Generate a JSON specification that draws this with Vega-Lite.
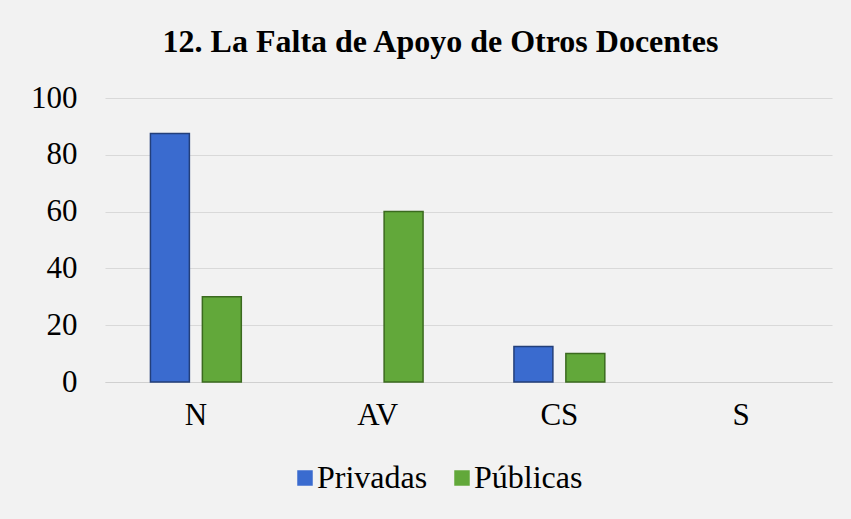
{
  "$schema": "https://vega.github.io/schema/vega-lite/v6.json",
  "width": 727,
  "height": 284,
  "autosize": "none",
  "padding": {"left": 105, "top": 98, "right": 19, "bottom": 137},
  "background": "#f2f2f2",
  "title": {
    "text": "12. La Falta de Apoyo de Otros Docentes",
    "font": "Liberation Serif",
    "fontSize": 32,
    "fontWeight": "bold",
    "color": "#000000",
    "anchor": "middle",
    "dx": -28,
    "offset": 23
  },
  "data": {
    "values": [
      {"cat": "N", "serie": "Privadas", "valor": 87.5},
      {"cat": "N", "serie": "Públicas", "valor": 30},
      {"cat": "AV", "serie": "Privadas", "valor": 0},
      {"cat": "AV", "serie": "Públicas", "valor": 60},
      {"cat": "CS", "serie": "Privadas", "valor": 12.5},
      {"cat": "CS", "serie": "Públicas", "valor": 10},
      {"cat": "S", "serie": "Privadas", "valor": 0},
      {"cat": "S", "serie": "Públicas", "valor": 0}
    ]
  },
  "mark": {"type": "bar", "strokeWidth": 1.5},
  "encoding": {
    "x": {
      "field": "cat",
      "type": "nominal",
      "sort": ["N", "AV", "CS", "S"],
      "scale": {"paddingInner": 0.5, "paddingOuter": 0.25},
      "axis": {
        "title": null,
        "labelAngle": 0,
        "labelFont": "Liberation Serif",
        "labelFontSize": 31,
        "labelColor": "#000000",
        "labelPadding": 18,
        "ticks": false,
        "domainColor": "#d0d0d0"
      }
    },
    "xOffset": {
      "field": "serie",
      "type": "nominal",
      "scale": {"paddingInner": 0.25}
    },
    "y": {
      "field": "valor",
      "type": "quantitative",
      "scale": {"domain": [0, 100]},
      "axis": {
        "title": null,
        "values": [0, 20, 40, 60, 80, 100],
        "labelFont": "Liberation Serif",
        "labelFontSize": 31,
        "labelColor": "#000000",
        "labelPadding": 28,
        "ticks": false,
        "domain": false,
        "gridColor": "#d9d9d9"
      }
    },
    "color": {
      "field": "serie",
      "type": "nominal",
      "scale": {"domain": ["Privadas", "Públicas"], "range": ["#3a6bcf", "#62a83a"]},
      "legend": {
        "title": null,
        "orient": "none",
        "legendX": 184,
        "legendY": 364,
        "direction": "horizontal",
        "symbolType": "square",
        "symbolSize": 240,
        "symbolStrokeWidth": 0,
        "labelFont": "Liberation Serif",
        "labelFontSize": 32,
        "labelColor": "#000000",
        "columnPadding": 18,
        "labelOffset": -4
      }
    },
    "stroke": {
      "field": "serie",
      "type": "nominal",
      "scale": {"domain": ["Privadas", "Públicas"], "range": ["#233f7a", "#3b6a1f"]},
      "legend": null
    },
    "strokeOpacity": {
      "condition": {"test": "datum.valor == 0", "value": 0},
      "value": 1
    }
  },
  "config": {"view": {"stroke": null}}
}
